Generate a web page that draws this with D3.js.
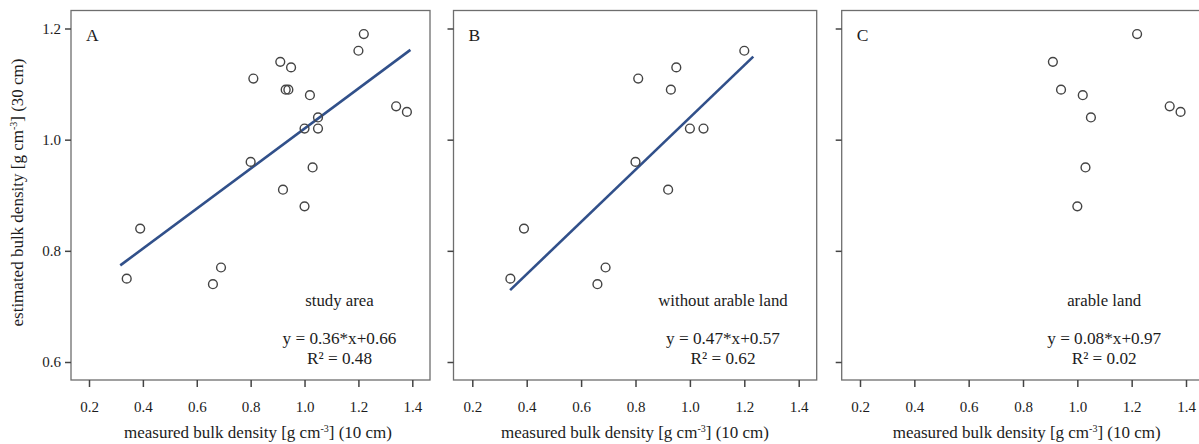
<!DOCTYPE html>
<html>
<head>
<meta charset="utf-8">
<script src="https://cdn.jsdelivr.net/npm/d3@7"></script>
<style>
  html, body { margin: 0; padding: 0; background: #fff; }
  svg { display: block; }
  text { font-family: "Liberation Serif", "Times New Roman", serif; fill: #1c1c1c; }
</style>
</head>
<body>
<svg id="chart" width="1199" height="444"></svg>
<script>
// Sampling sites on arable land: measured (10 cm) vs estimated (30 cm) bulk density
const arableX = [0.91, 0.94, 1.00, 1.02, 1.03, 1.05, 1.22, 1.34, 1.38];
const arableY = [1.14, 1.09, 0.88, 1.08, 0.95, 1.04, 1.19, 1.06, 1.05];

// Sampling sites outside arable land
const otherX = [0.34, 0.39, 0.66, 0.69, 0.80, 0.81, 0.92, 0.93, 0.95, 1.00, 1.05, 1.20];
const otherY = [0.75, 0.84, 0.74, 0.77, 0.96, 1.11, 0.91, 1.09, 1.13, 1.02, 1.02, 1.16];

// Panel definitions
const panelLetters = ["A", "B", "C"];
const panelNames = ["study area", "without arable land", "arable land"];
const slopes = [0.36, 0.47, 0.08];
const intercepts = [0.66, 0.57, 0.97];
const rSquared = [0.48, 0.62, 0.02];
const fitFrom = [0.316, 0.339, null];
const fitTo = [1.393, 1.233, null];

const xTicks = [0.2, 0.4, 0.6, 0.8, 1.0, 1.2, 1.4];
const yTicks = [0.6, 0.8, 1.0, 1.2];

const xTitle = "measured bulk density [g cm";
const yTitle = "estimated bulk density [g cm";

// Layout of the three frames (pixels)
const layout = [
  { left: 71,    right: 430,   x0: 89,    x1: 412.3, label: 268.5, title: 258 },
  { left: 453.5, right: 816.7, x0: 472.3, x1: 798.7, label: 269.5, title: 181.5 },
  { left: 841.7, right: 1205,  x0: 860,   x1: 1186,  label: 262.5, title: 185 }
];
const frameTop = 10.5, frameBottom = 380;

const points = [
  otherX.map((x, i) => ({ x, y: otherY[i] })).concat(arableX.map((x, i) => ({ x, y: arableY[i] }))),
  otherX.map((x, i) => ({ x, y: otherY[i] })),
  arableX.map((x, i) => ({ x, y: arableY[i] }))
];

const svg = d3.select("#chart");
const y = d3.scaleLinear().domain([0.6, 1.2]).range([362, 28.5]);

layout.forEach((L, p) => {
  const x = d3.scaleLinear().domain([0.2, 1.4]).range([L.x0, L.x1]);
  const g = svg.append("g");

  // frame
  g.append("rect")
    .attr("x", L.left).attr("y", frameTop)
    .attr("width", L.right - L.left).attr("height", frameBottom - frameTop)
    .attr("fill", "#fff").attr("stroke", "#6e6e6e").attr("stroke-width", 1.3);

  // x axis ticks outside the frame
  const xAxis = d3.axisBottom(x).tickValues(xTicks).tickFormat(d3.format(".1f"))
    .tickSize(7).tickPadding(14);
  const gx = g.append("g").attr("transform", `translate(0,${frameBottom})`).call(xAxis);
  gx.select(".domain").remove();
  gx.selectAll(".tick line").attr("stroke", "#444").attr("stroke-width", 1.5);
  gx.selectAll(".tick text").attr("font-size", 15).attr("fill", "#2a2a2a")
    .style("font-family", "'Liberation Serif', serif");

  // y axis ticks (labels only on the first panel)
  const yAxis = d3.axisLeft(y).tickValues(yTicks).tickFormat(p === 0 ? d3.format(".1f") : () => "")
    .tickSize(6).tickPadding(4);
  const gy = g.append("g").attr("transform", `translate(${L.left},0)`).call(yAxis);
  gy.select(".domain").remove();
  gy.selectAll(".tick line").attr("stroke", "#444").attr("stroke-width", 1.5);
  gy.selectAll(".tick text").attr("font-size", 15).attr("fill", "#2a2a2a")
    .style("font-family", "'Liberation Serif', serif");

  // fitted regression line
  if (fitFrom[p] !== null) {
    const fx = [fitFrom[p], fitTo[p]];
    g.append("line")
      .attr("x1", x(fx[0])).attr("y1", y(slopes[p] * fx[0] + intercepts[p]))
      .attr("x2", x(fx[1])).attr("y2", y(slopes[p] * fx[1] + intercepts[p]))
      .attr("stroke", "#31508a").attr("stroke-width", 2.6);
  }

  // observations
  g.selectAll("circle.obs").data(points[p]).join("circle")
    .attr("class", "obs")
    .attr("cx", d => x(d.x)).attr("cy", d => y(d.y))
    .attr("r", 4.4)
    .attr("fill", "none").attr("stroke", "#444").attr("stroke-width", 1.4);

  // panel letter
  g.append("text").attr("x", L.left + 15).attr("y", 41)
    .attr("font-size", 17.5).text(panelLetters[p]);

  // annotations
  const cx = L.left + L.label;
  g.append("text").attr("x", cx).attr("y", 306).attr("text-anchor", "middle")
    .attr("font-size", 16.8).text(panelNames[p]);
  g.append("text").attr("x", cx).attr("y", 343.5).attr("text-anchor", "middle")
    .attr("font-size", 17.2)
    .text(`y = ${slopes[p].toFixed(2)}*x+${intercepts[p].toFixed(2)}`);
  g.append("text").attr("x", cx).attr("y", 364).attr("text-anchor", "middle")
    .attr("font-size", 17.2)
    .text(`R\u00B2 = ${rSquared[p].toFixed(2)}`);

  // x axis title
  const tx = g.append("text")
    .attr("x", p === 0 ? L.title : L.left + L.title).attr("y", 438)
    .attr("text-anchor", "middle").attr("font-size", 17);
  tx.append("tspan").text(xTitle);
  tx.append("tspan").attr("dy", -6).attr("font-size", 10).text("-3");
  tx.append("tspan").attr("dy", 6).text("] (10 cm)");
});

// y axis title
const ty = svg.append("text")
  .attr("transform", "translate(23,192.5) rotate(-90)")
  .attr("text-anchor", "middle").attr("font-size", 17);
ty.append("tspan").text(yTitle);
ty.append("tspan").attr("dy", -6).attr("font-size", 10).text("-3");
ty.append("tspan").attr("dy", 6).text("] (30 cm)");
</script>
</body>
</html>
